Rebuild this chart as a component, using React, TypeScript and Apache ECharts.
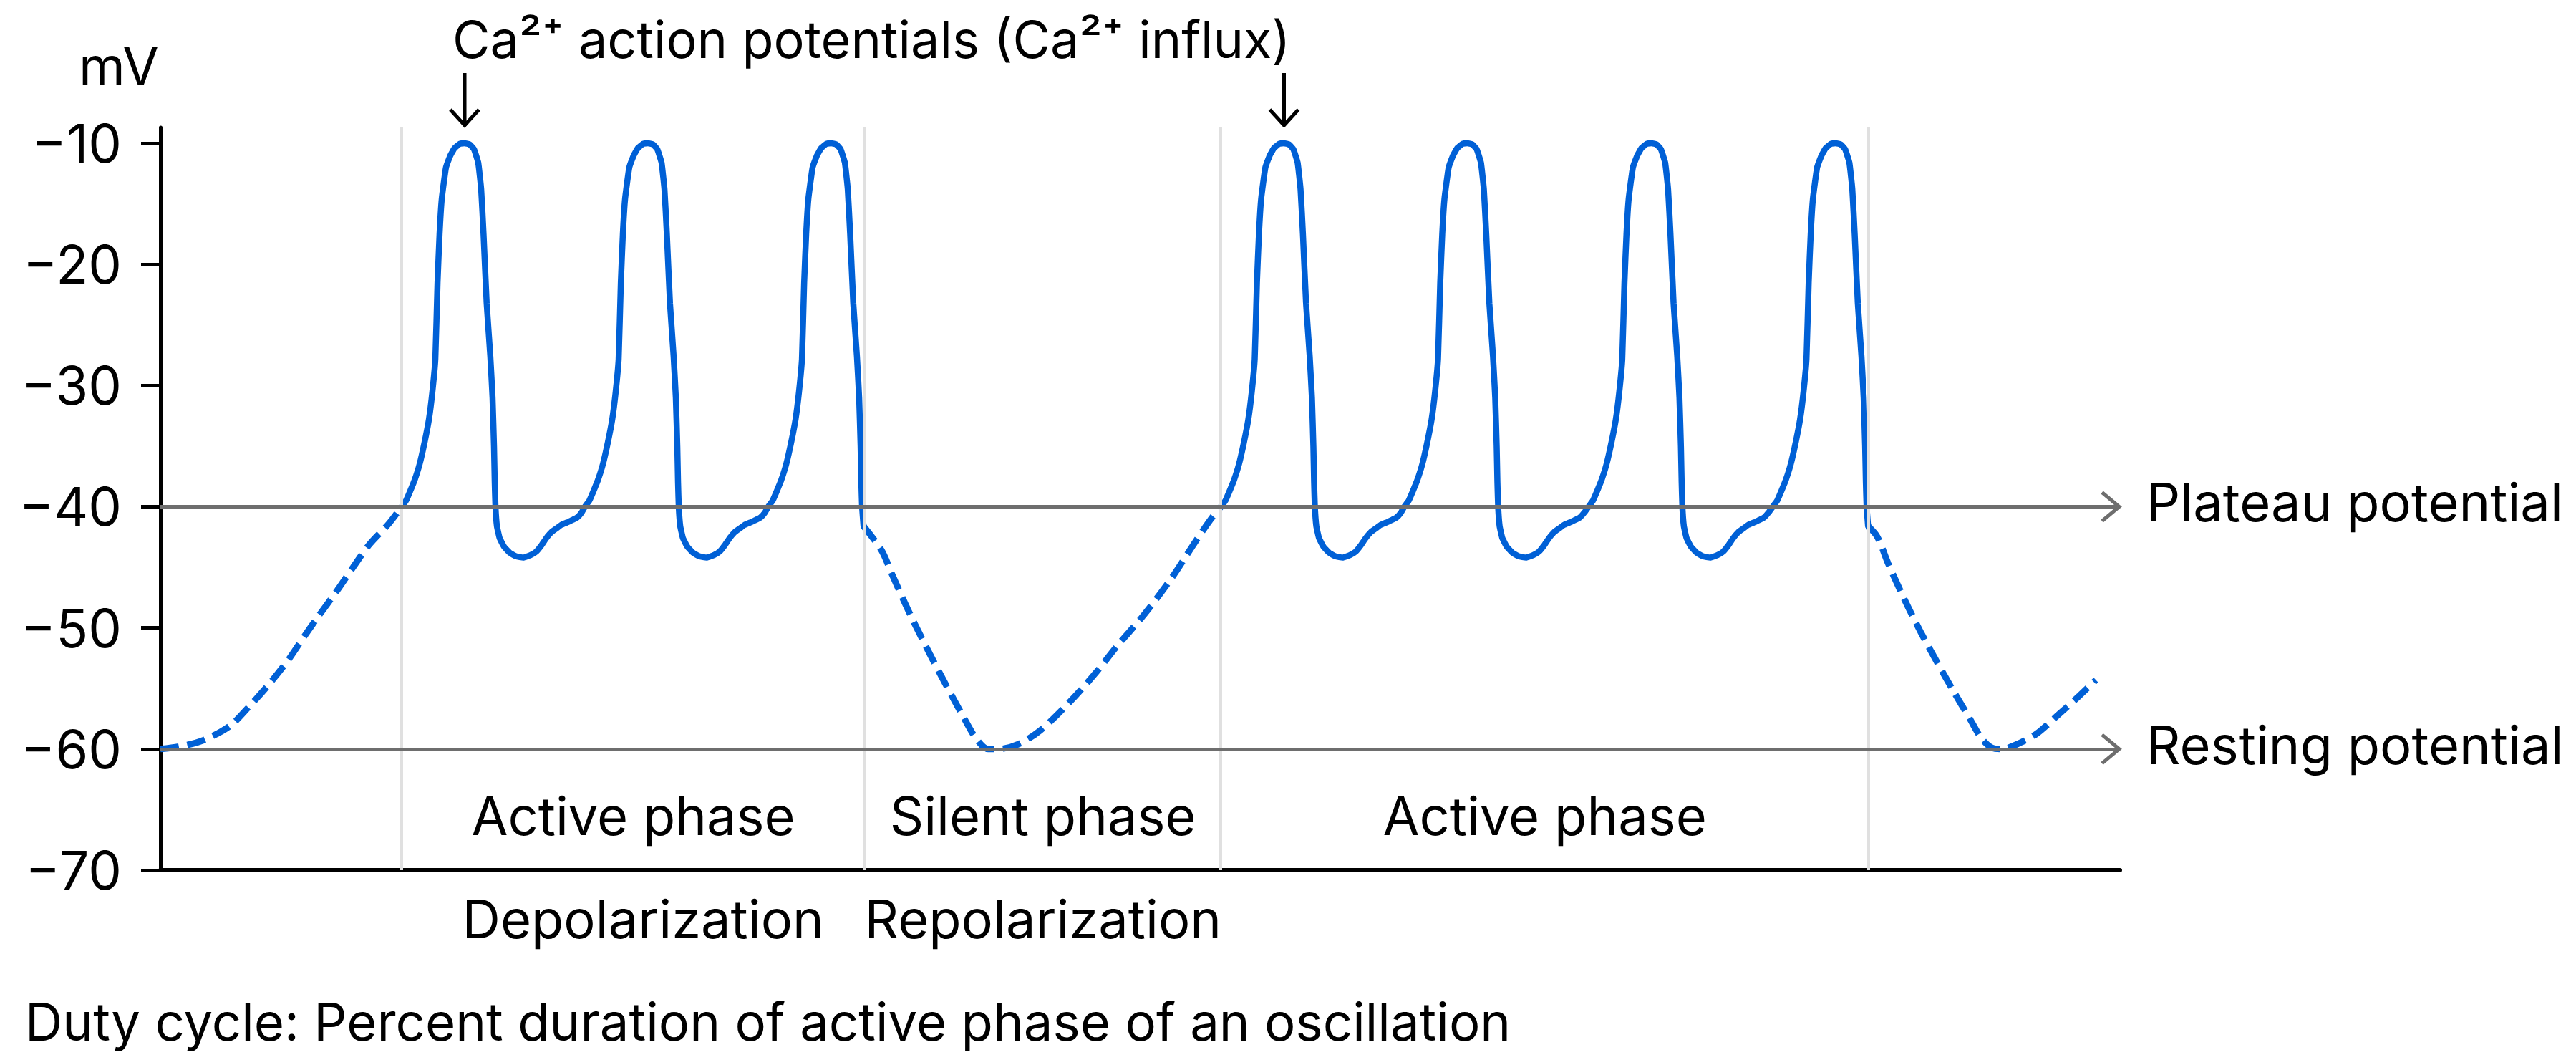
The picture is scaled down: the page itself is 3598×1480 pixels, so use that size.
import React, { useEffect, useRef } from "react";
import * as echarts from "echarts";

// ---------- Data (time in arbitrary units, potential in mV) ----------
const yTicks = [-70, -60, -50, -40, -30, -20, -10];
const yMin = -70;
const yMax = -8.7;
const xMin = 0;
const xMax = 106.9;

const plateauPotential = -40;
const restingPotential = -60;

// spike peak times for each active phase (burst)
const burst1Peaks = [16.6, 26.6, 36.6];
const burst2Peaks = [61.3, 71.3, 81.35, 91.4];

// phase boundaries (vertical divider lines)
const phaseDividers = [13.16, 38.44, 57.85, 93.2];

// one Ca2+ action potential, relative to its peak time [dt, mV]
const spikeRise: [number, number][] = [
  [-3.44, -40], [-3.2, -39.5], [-2.97, -38.7], [-2.73, -37.8], [-2.46, -36.5],
  [-2.19, -34.7], [-1.95, -32.8], [-1.76, -30.5], [-1.6, -27.8], [-1.48, -21.5],
  [-1.37, -17.5], [-1.25, -14.6], [-1.02, -12], [-0.78, -11], [-0.55, -10.4],
  [-0.27, -10.05], [0, -10],
];
const spikeFall: [number, number][] = [
  [0.27, -10.1], [0.51, -10.5], [0.74, -11.6], [0.9, -13.8], [1.03, -17.5],
  [1.2, -23.2], [1.4, -27.6], [1.52, -31], [1.6, -35], [1.64, -38],
  [1.68, -40], [1.76, -41.6],
];
// after-hyperpolarisation dip between two spikes, relative to the previous peak
const interSpikeTrough: [number, number][] = [
  [1.91, -42.6], [2.15, -43.3], [2.46, -43.8], [2.81, -44.1], [3.2, -44.2],
  [3.59, -44], [3.91, -43.7], [4.18, -43.2], [4.45, -42.6], [4.73, -42.1],
  [5.0, -41.8], [5.27, -41.5], [5.59, -41.3], [5.86, -41.1], [6.13, -40.9],
  [6.37, -40.5],
];

// dashed (slow wave) segments [t, mV]
const initialDepolarization: [number, number][] = [
  [0, -60], [1.02, -59.8], [2.3, -59.3], [3.79, -58.1], [4.84, -56.5],
  [5.9, -54.7], [6.95, -52.7], [7.85, -50.7], [8.59, -49.1], [9.65, -46.9],
  [10.51, -45], [11.41, -43.1], [12.46, -41.4], [13.16, -40],
];
const silentPhase1: [number, number][] = [
  [38.36, -41.6], [39.34, -43.6], [39.92, -45.6], [40.51, -47.6], [41.13, -49.6],
  [41.99, -52.2], [42.89, -54.8], [43.79, -57.3], [44.53, -59.2], [45.16, -60],
  [45.74, -60], [46.8, -59.6], [47.97, -58.5], [49.49, -56.3], [50.98, -53.8],
  [52.19, -51.5], [53.67, -48.9], [55.16, -45.9], [56.37, -43.1], [57.27, -41.1],
  [57.86, -40],
];
const silentPhase2: [number, number][] = [
  [93.16, -41.6], [93.67, -42.5], [94.26, -44.7], [95.16, -47.7], [96.05, -50.4],
  [96.95, -52.9], [97.81, -55.2], [98.71, -57.5], [99.34, -59.1], [99.92, -59.9],
  [100.5, -60], [101.13, -59.7], [102.3, -58.8], [103.52, -57.2], [104.69, -55.6],
  [105.59, -54.3],
];

const phaseLabels = [
  { text: "Active phase", from: 13.16, to: 38.44 },
  { text: "Silent phase", from: 38.44, to: 57.85 },
  { text: "Active phase", from: 57.85, to: 93.2 },
];
const subLabels = [
  { text: "Depolarization", at: 26.33 },
  { text: "Repolarization", at: 48.15 },
];
const titleText = "Ca\u00B2\u207A action potentials (Ca\u00B2\u207A influx)";
const footnote = "Duty cycle: Percent duration of active phase of an oscillation";

// ---------- helpers ----------
const round2 = (v: number) => Math.round(v * 100) / 100;
function buildBurst(peaks: number[]): [number, number][] {
  const pts: [number, number][] = [];
  peaks.forEach((p, i) => {
    spikeRise.forEach(([dt, v]) => pts.push([round2(p + dt), v]));
    spikeFall.forEach(([dt, v]) => pts.push([round2(p + dt), v]));
    if (i < peaks.length - 1) {
      interSpikeTrough.forEach(([dt, v]) => pts.push([round2(p + dt), v]));
    }
  });
  return pts;
}

const BLUE = "#0060D6";
const GRAY = "#6E6E6E";
const FONT = "Inter";
const FS = 74;

export default function App() {
  const ref = useRef<HTMLDivElement>(null);

  useEffect(() => {
    if (!ref.current) return;
    const chart = echarts.init(ref.current, undefined, { renderer: "svg" });

    const solid = {
      type: "line",
      showSymbol: false,
      symbol: "none",
      z: 3,
      smooth: 0.12,
      lineStyle: { color: BLUE, width: 8.5, type: "solid", join: "round", cap: "round" },
      silent: true,
    };
    const dashed = {
      type: "line",
      showSymbol: false,
      symbol: "none",
      z: 3,
      smooth: 0.3,
      lineStyle: { color: BLUE, width: 9, type: [26, 12], cap: "butt" },
      silent: true,
    };

    chart.setOption({
      animation: false,
      backgroundColor: "#ffffff",
      grid: {
        left: 224,
        top: 178,
        width: 2737,
        height: 1037,
        containLabel: false,
        outerBoundsMode: "none",
      },
      xAxis: {
        type: "value",
        min: xMin,
        max: xMax,
        axisLine: { show: true, onZero: false, lineStyle: { color: "#000", width: 6 } },
        axisTick: { show: false },
        axisLabel: { show: false },
        splitLine: { show: false },
      },
      yAxis: {
        type: "value",
        min: yMin,
        max: yMax,
        axisLine: { show: true, onZero: false, lineStyle: { color: "#000", width: 5 } },
        axisTick: {
          show: true,
          length: 27,
          customValues: yTicks,
          lineStyle: { color: "#000", width: 5 },
        },
        axisLabel: {
          show: true,
          customValues: yTicks,
          margin: 54,
          fontSize: FS,
          fontFamily: FONT,
          color: "#000",
          formatter: (v: number) => (v < 0 ? "\u2212" + Math.abs(v) : String(v)),
        },
        splitLine: { show: false },
      },
      series: [
        {
          type: "line",
          data: [],
          z: 0,
          silent: true,
          markLine: {
            silent: true,
            symbol: "none",
            label: { show: false },
            lineStyle: { color: "#E0E0E0", width: 4, type: "solid" },
            data: phaseDividers.map((x) => ({ xAxis: x })),
          },
        },
        {
          type: "line",
          data: [],
          z: 1,
          silent: true,
          markLine: {
            silent: true,
            symbol: "none",
            label: { show: false },
            lineStyle: { color: GRAY, width: 5, type: "solid" },
            data: [{ yAxis: plateauPotential }, { yAxis: restingPotential }],
          },
        },
        { ...dashed, name: "Initial depolarization", data: initialDepolarization },
        { ...solid, name: "Active phase 1", data: buildBurst(burst1Peaks) },
        { ...dashed, name: "Silent phase", data: silentPhase1 },
        { ...solid, name: "Active phase 2", data: buildBurst(burst2Peaks) },
        { ...dashed, name: "Silent phase 2", data: silentPhase2 },
      ],
    });

    const px = (x: number, y: number) =>
      chart.convertToPixel({ gridIndex: 0 }, [x, y]) as number[];

    const [axX, axTop] = px(xMin, yMax);
    const [, axBottom] = px(xMin, yMin);
    const [xEnd, yPlateau] = px(xMax, plateauPotential);
    const [, yResting] = px(xMax, restingPotential);

    const textStyle = (text: string, align: string, size = FS) => ({
      text,
      fontSize: size,
      fontFamily: FONT,
      fill: "#000",
      align,
      verticalAlign: "middle",
    });

    const elements: any[] = [];

    // y axis unit
    elements.push({
      type: "text",
      x: axX - 2,
      y: axTop - 86,
      style: textStyle("mV", "right"),
    });

    // arrows to first spike of each burst + title
    const arrowPeaks = [burst1Peaks[0], burst2Peaks[0]];
    const arrowXs = arrowPeaks.map((p) => px(p, yMax)[0]);
    arrowXs.forEach((ax) => {
      elements.push({
        type: "line",
        shape: { x1: ax, y1: axTop - 76, x2: ax, y2: axTop - 2 },
        style: { stroke: "#000", lineWidth: 5 },
      });
      elements.push({
        type: "polyline",
        shape: { points: [[ax - 20, axTop - 25], [ax, axTop - 3], [ax + 20, axTop - 25]] },
        style: { stroke: "#000", lineWidth: 5, fill: null },
      });
    });
    elements.push({
      type: "text",
      x: (arrowXs[0] + arrowXs[1]) / 2 - 4,
      y: axTop - 124,
      style: textStyle(titleText, "center", 72),
    });

    // arrow heads on plateau / resting lines and their labels
    [
      { y: yPlateau, label: "Plateau potential" },
      { y: yResting, label: "Resting potential" },
    ].forEach(({ y, label }) => {
      elements.push({
        type: "polyline",
        shape: { points: [[xEnd - 25, y - 20], [xEnd - 1, y], [xEnd - 25, y + 20]] },
        style: { stroke: GRAY, lineWidth: 5, fill: null },
      });
      elements.push({
        type: "text",
        x: xEnd + 37,
        y: y - 6,
        style: textStyle(label, "left"),
      });
    });

    // phase labels
    phaseLabels.forEach(({ text, from, to }) => {
      const cx = px((from + to) / 2, yMin)[0];
      elements.push({
        type: "text",
        x: cx,
        y: axBottom - 76,
        style: textStyle(text, "center"),
      });
    });
    subLabels.forEach(({ text, at }) => {
      const cx = px(at, yMin)[0];
      elements.push({
        type: "text",
        x: cx,
        y: axBottom + 68,
        style: textStyle(text, "center"),
      });
    });

    // footnote
    elements.push({
      type: "text",
      x: 35,
      y: axBottom + 211,
      style: textStyle(footnote, "left", 72.5),
    });

    chart.setOption({ graphic: { elements } });

    return () => chart.dispose();
  }, []);

  return (
    <div
      ref={ref}
      style={{
        position: "fixed",
        left: 0,
        top: 0,
        width: 3598,
        height: 1480,
        background: "#fff",
      }}
    />
  );
}
